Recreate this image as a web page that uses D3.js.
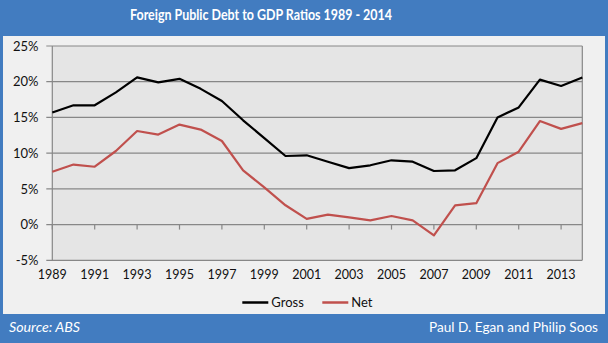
<!DOCTYPE html>
<html>
<head>
<meta charset="utf-8">
<script src="https://cdn.jsdelivr.net/npm/d3@7"></script>
<style>
  html, body { margin: 0; padding: 0; background: #427cc0; }
  svg { display: block; }
  text { font-family: Lato, "Open Sans", sans-serif; }
</style>
</head>
<body>
<svg id="chart" width="608" height="343"></svg>
<script>
// Foreign public debt as a share of GDP, per cent
const years = d3.range(1989, 2015);
const gross = [15.7, 16.7, 16.7, 18.5, 20.6, 19.9, 20.4, 19.0, 17.3, 14.6, 12.1, 9.6,
               9.7, 8.8, 7.9, 8.3, 9.0, 8.8, 7.5, 7.6, 9.3, 15.0, 16.4, 20.3, 19.4, 20.6];
const net   = [7.4, 8.4, 8.1, 10.3, 13.1, 12.6, 14.0, 13.3, 11.7, 7.6, 5.2, 2.7,
               0.8, 1.4, 1.0, 0.6, 1.2, 0.6, -1.5, 2.7, 3.0, 8.6, 10.2, 14.5, 13.4, 14.2];
const yTicks = [-5, 0, 5, 10, 15, 20, 25];
const xTickYears = d3.range(1989, 2015, 2);
const seriesNames = ["Gross", "Net"];
const seriesColors = ["#000000", "#c0504d"];

const W = 608, H = 343;
const blue = "#427cc0";
const svg = d3.select("#chart");

// frame: blue title bar and footer around a light panel
svg.append("rect").attr("width", W).attr("height", H).attr("fill", blue);
svg.append("rect").attr("x", 3).attr("y", 36).attr("width", 602).attr("height", 278).attr("fill", "#f0f0f0");

svg.append("text")
  .attr("x", 130).attr("y", 19.5)
  .attr("fill", "#fff").attr("font-weight", "bold").attr("font-size", 15)
  .attr("textLength", 262).attr("lengthAdjust", "spacingAndGlyphs")
  .text("Foreign Public Debt to GDP Ratios 1989 - 2014");

const plot = { left: 52.3, right: 582.3, top: 46, bottom: 260.3 };
const x = d3.scalePoint().domain(years).range([plot.left, plot.right]);
const y = d3.scaleLinear().domain([-5, 25]).range([plot.bottom, plot.top]);

const grid = "#878787";

svg.append("rect")
  .attr("x", plot.left).attr("y", plot.top)
  .attr("width", plot.right - plot.left).attr("height", plot.bottom - plot.top)
  .attr("fill", "#e5e5e5");

// horizontal gridlines, extended left as tick marks
svg.append("g").selectAll("line").data(yTicks).join("line")
  .attr("x1", plot.left - 6).attr("x2", plot.right)
  .attr("y1", d => y(d)).attr("y2", d => y(d))
  .attr("stroke", grid).attr("stroke-width", 1.2);

// y axis line and right border
svg.append("line").attr("x1", plot.left).attr("x2", plot.left)
  .attr("y1", plot.top).attr("y2", plot.bottom).attr("stroke", grid).attr("stroke-width", 1.2);
svg.append("line").attr("x1", plot.right).attr("x2", plot.right)
  .attr("y1", plot.top).attr("y2", plot.bottom).attr("stroke", grid).attr("stroke-width", 1.2);

// y tick labels
svg.append("g").selectAll("text").data(yTicks).join("text")
  .attr("x", 38.5).attr("y", d => y(d)).attr("dy", "0.36em")
  .attr("text-anchor", "end").attr("font-size", 13).attr("fill", "#111")
  .text(d => d + "%");

// category ticks hang below the zero line
svg.append("g").selectAll("line").data(xTickYears).join("line")
  .attr("x1", d => x(d)).attr("x2", d => x(d))
  .attr("y1", y(0)).attr("y2", y(0) + 5)
  .attr("stroke", grid).attr("stroke-width", 1.2);

svg.append("g").selectAll("text").data(xTickYears).join("text")
  .attr("x", d => x(d)).attr("y", 279)
  .attr("text-anchor", "middle").attr("font-size", 12.5).attr("fill", "#111")
  .text(d => d);

// series lines
const line = d3.line().x((d, i) => x(years[i])).y(d => y(d));
[gross, net].forEach((vals, k) => {
  svg.append("path").datum(vals)
    .attr("d", line).attr("fill", "none")
    .attr("stroke", seriesColors[k]).attr("stroke-width", 2.2)
    .attr("stroke-linejoin", "round");
});

// legend
const legendX = [242.3, 322.3];
seriesNames.forEach((name, k) => {
  svg.append("line").attr("x1", legendX[k]).attr("x2", legendX[k] + 26)
    .attr("y1", 302.5).attr("y2", 302.5)
    .attr("stroke", seriesColors[k]).attr("stroke-width", 2.5);
  svg.append("text").attr("x", legendX[k] + 29).attr("y", 306.5)
    .attr("font-size", 13).attr("fill", "#111").text(name);
});

// footer
svg.append("text").attr("x", 9).attr("y", 331.5)
  .attr("fill", "#fff").attr("font-style", "italic").attr("font-size", 13)
  .attr("textLength", 71).attr("lengthAdjust", "spacingAndGlyphs")
  .text("Source: ABS");
svg.append("text").attr("x", 429).attr("y", 331.5)
  .attr("fill", "#fff").attr("font-size", 13)
  .attr("textLength", 169).attr("lengthAdjust", "spacingAndGlyphs")
  .text("Paul D. Egan and Philip Soos");
</script>
</body>
</html>
